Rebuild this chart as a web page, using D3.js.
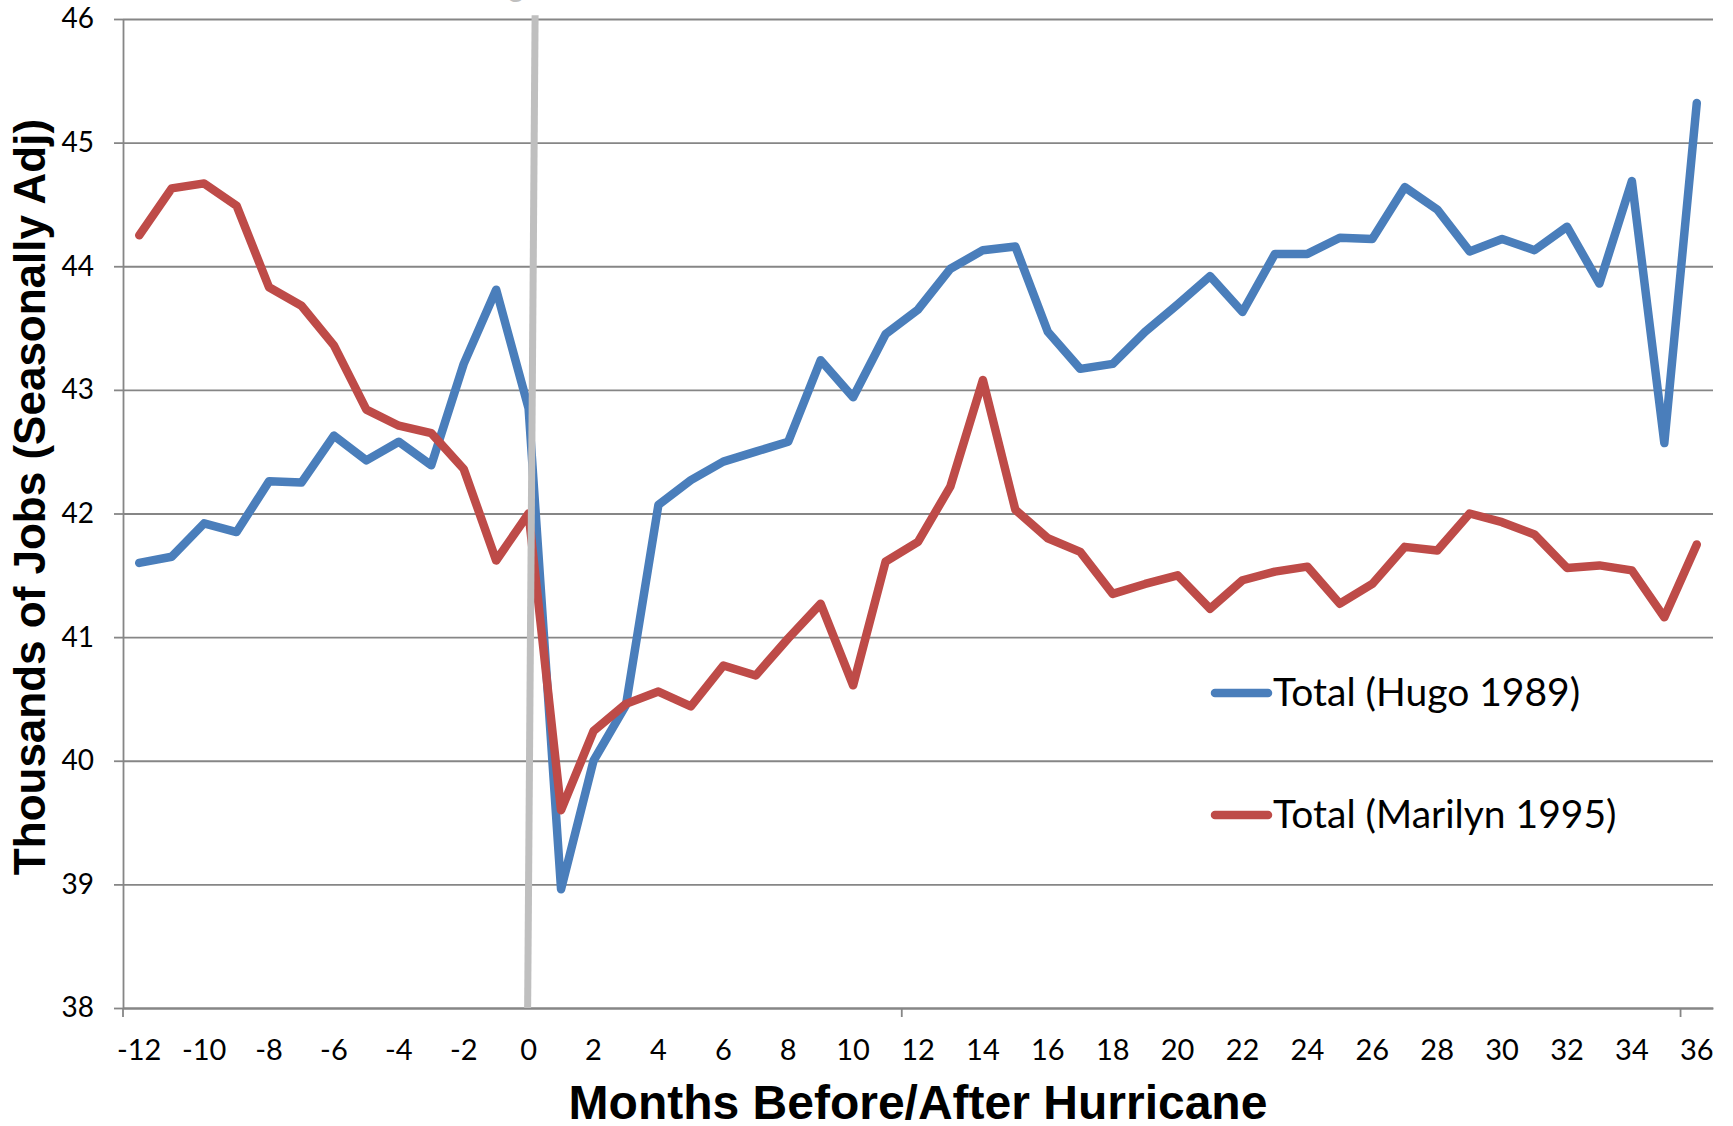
<!DOCTYPE html>
<html>
<head>
<meta charset="utf-8">
<script src="https://cdn.jsdelivr.net/npm/d3@7/dist/d3.min.js"></script>
<style>
  body { margin: 0; background: #fff; }
</style>
</head>
<body>
<div id="chart"></div>
<script>
// months relative to hurricane landfall
const months = [-12, -11, -10, -9, -8, -7, -6, -5, -4, -3, -2, -1, 0,
  1, 2, 3, 4, 5, 6, 7, 8, 9, 10, 11, 12, 13, 14, 15, 16, 17, 18,
  19, 20, 21, 22, 23, 24, 25, 26, 27, 28, 29, 30, 31, 32, 33, 34, 35, 36];

const hugo = [41.60, 41.65, 41.92, 41.85, 42.26, 42.25, 42.63, 42.43, 42.58, 42.39, 43.21, 43.81, 42.85,
  38.96, 40.00, 40.45, 42.07, 42.27, 42.42, 42.50, 42.58, 43.24, 42.94, 43.45, 43.65, 43.98, 44.13, 44.16,
  43.47, 43.17, 43.21, 43.47, 43.69, 43.92, 43.63, 44.10, 44.10, 44.23, 44.22, 44.64, 44.46, 44.12,
  44.22, 44.13, 44.32, 43.86, 44.69, 42.57, 45.32];

const marilyn = [44.25, 44.63, 44.67, 44.49, 43.83, 43.68, 43.36, 42.84, 42.71, 42.65, 42.36, 41.62, 42.00,
  39.60, 40.24, 40.46, 40.56, 40.44, 40.77, 40.69, 40.99, 41.27, 40.61, 41.61, 41.77, 42.22, 43.08, 42.03,
  41.80, 41.69, 41.35, 41.43, 41.50, 41.23, 41.46, 41.53, 41.57, 41.27, 41.43, 41.73, 41.70, 42.00,
  41.93, 41.83, 41.56, 41.58, 41.54, 41.16, 41.75];

const seriesNames = ["Total (Hugo 1989)", "Total (Marilyn 1995)"];
const yTicks = [38, 39, 40, 41, 42, 43, 44, 45, 46];
const xLabels = [-12, -10, -8, -6, -4, -2, 0, 2, 4, 6, 8, 10, 12, 14, 16, 18, 20, 22, 24, 26, 28, 30, 32, 34, 36];
const xTickMarks = [-12, 12, 36];   // excel puts a mark every 24 categories

const width = 1733, height = 1126;
const plotL = 123, plotR = 1713, plotT = 19, plotB = 1008;

const svg = d3.select("#chart").append("svg")
    .attr("width", width)
    .attr("height", height);

const x = d3.scaleBand().domain(months).range([plotL, plotR]).padding(0);
const xc = m => x(m) + x.bandwidth() / 2;
// for the hand drawn marker, which is not on a category centre
const xLin = d3.scaleLinear().domain([months[0], months[months.length - 1]]).range([xc(months[0]), xc(months[months.length - 1])]);
const y = d3.scaleLinear().domain([38, 46]).range([plotB, plotT]);

const gridColor = "#868686";

// gridlines
svg.append("g")
    .attr("transform", `translate(${plotL},0)`)
    .call(d3.axisLeft(y).tickValues(yTicks).tickSize(-(plotR - plotL)).tickFormat(""))
    .call(g => g.select(".domain").remove())
    .call(g => g.selectAll("line").attr("stroke", gridColor).attr("stroke-width", 1.8));

// y axis
svg.append("g")
    .attr("transform", `translate(${plotL},0)`)
    .call(d3.axisLeft(y).tickValues(yTicks).tickSizeInner(9).tickSizeOuter(0).tickPadding(20))
    .call(g => g.select(".domain").attr("stroke", gridColor).attr("stroke-width", 1.8))
    .call(g => g.selectAll("line").attr("stroke", gridColor).attr("stroke-width", 1.8))
    .call(g => g.selectAll("text").attr("font-family", "Lato, sans-serif").attr("font-size", 28).attr("fill", "#000"));

// x axis labels
svg.append("g")
    .attr("transform", `translate(0,${plotB})`)
    .call(d3.axisBottom(x).tickValues(xLabels).tickSizeInner(0).tickSizeOuter(0).tickPadding(31))
    .call(g => g.select(".domain").attr("stroke", gridColor).attr("stroke-width", 1.8))
    .call(g => g.selectAll("text").attr("font-family", "Lato, sans-serif").attr("font-size", 29).attr("fill", "#000"));

// x tick marks at category boundaries
svg.append("g").selectAll("line")
    .data(xTickMarks)
    .join("line")
    .attr("x1", m => x(m)).attr("x2", m => x(m))
    .attr("y1", plotB).attr("y2", plotB + 9)
    .attr("stroke", gridColor).attr("stroke-width", 1.8);

const colors = ["#4a7ebb", "#be4b48"];
const line = d3.line().x((d, i) => xc(months[i])).y(d => y(d));

svg.append("g").selectAll("path")
    .data([hugo, marilyn])
    .join("path")
    .attr("d", d => line(d))
    .attr("fill", "none")
    .attr("stroke", (d, i) => colors[i])
    .attr("stroke-width", 8.5)
    .attr("stroke-linejoin", "round")
    .attr("stroke-linecap", "round");

// hurricane marker (hand drawn, slightly slanted)
const marker = [[0.2, 46.03], [-0.03, 38]];
svg.append("line")
    .attr("x1", xLin(marker[0][0])).attr("y1", y(marker[0][1]))
    .attr("x2", xLin(marker[1][0])).attr("y2", y(marker[1][1]))
    .attr("stroke", "#bfbfbf")
    .attr("stroke-width", 7);

// cut-off label above the plot, only a descender shows
svg.append("text")
    .attr("x", 516).attr("y", -3)
    .attr("text-anchor", "middle")
    .attr("font-family", "Lato, sans-serif")
    .attr("font-size", 30)
    .attr("fill", "#bfbfbf")
    .text("g");

// legend
const legend = svg.append("g").selectAll("g")
    .data(seriesNames)
    .join("g")
    .attr("transform", (d, i) => `translate(1215,${693 + i * 122})`);

legend.append("line")
    .attr("x1", 0).attr("x2", 53)
    .attr("stroke", (d, i) => colors[i])
    .attr("stroke-width", 8.5)
    .attr("stroke-linecap", "round");

legend.append("text")
    .attr("x", 58).attr("y", 13)
    .attr("font-family", "Lato, sans-serif")
    .attr("font-size", 39)
    .attr("fill", "#000")
    .text(d => d);

// axis titles
svg.append("text")
    .attr("transform", `translate(45,497) rotate(-90)`)
    .attr("text-anchor", "middle")
    .attr("font-family", "Liberation Sans, Arial, sans-serif")
    .attr("font-weight", "bold")
    .attr("font-size", 44)
    .text("Thousands of Jobs (Seasonally Adj)");

svg.append("text")
    .attr("x", (plotL + plotR) / 2).attr("y", 1119)
    .attr("text-anchor", "middle")
    .attr("font-family", "Liberation Sans, Arial, sans-serif")
    .attr("font-weight", "bold")
    .attr("font-size", 48)
    .text("Months Before/After Hurricane");
</script>
</body>
</html>
